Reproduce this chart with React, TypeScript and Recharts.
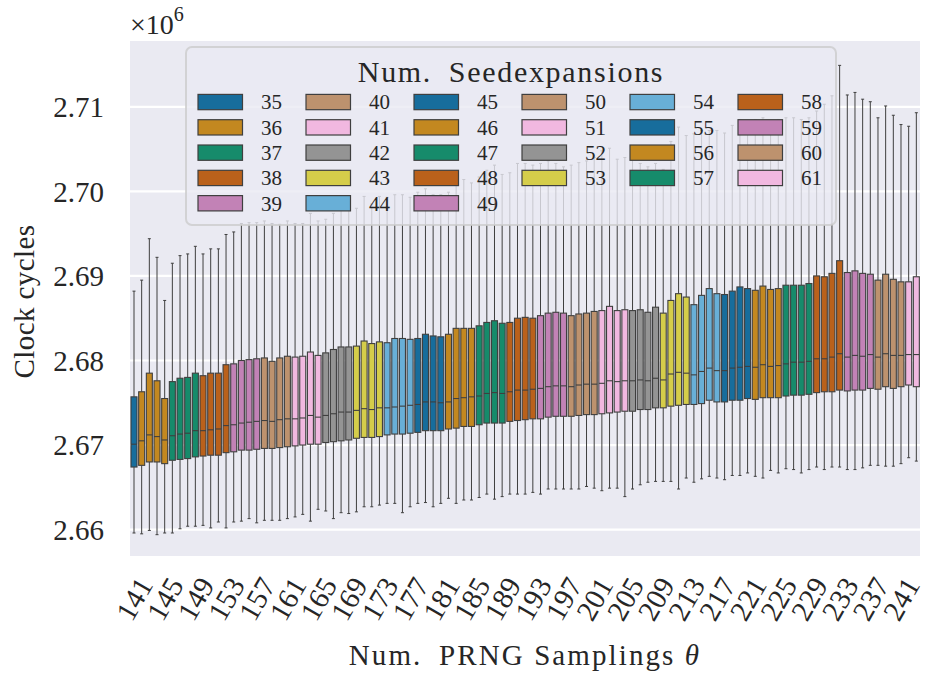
import { ComposedChart, Bar, XAxis, YAxis, CartesianGrid } from "recharts";

const FONT = '"Liberation Serif", "Times New Roman", serif';
const TEXT = "#262626";
const EDGE = "#3f3f3f";

// Num. PRNG samplings (x categories)
const thetas = [
  141, 142, 143, 144, 145, 146, 147, 148, 149, 150,
  151, 152, 153, 154, 155, 156, 157, 158, 159, 160,
  161, 162, 163, 164, 165, 166, 167, 168, 169, 170,
  171, 172, 173, 174, 175, 176, 177, 178, 179, 180,
  181, 182, 183, 184, 185, 186, 187, 188, 189, 190,
  191, 192, 193, 194, 195, 196, 197, 198, 199, 200,
  201, 202, 203, 204, 205, 206, 207, 208, 209, 210,
  211, 212, 213, 214, 215, 216, 217, 218, 219, 220,
  221, 222, 223, 224, 225, 226, 227, 228, 229, 230,
  231, 232, 233, 234, 235, 236, 237, 238, 239, 240,
  241, 242, 243,
];

// Num. seedexpansions used for each theta (hue)
const seeds = [
  35, 36, 36, 36, 36, 37, 37, 37, 37, 38,
  38, 38, 38, 39, 39, 39, 39, 40, 40, 40,
  40, 41, 41, 41, 41, 42, 42, 42, 42, 43,
  43, 43, 43, 44, 44, 44, 44, 45, 45, 45,
  45, 46, 46, 46, 46, 47, 47, 47, 47, 48,
  48, 48, 48, 49, 49, 49, 49, 50, 50, 50,
  50, 51, 51, 51, 51, 52, 52, 52, 52, 53,
  53, 53, 53, 54, 54, 54, 54, 55, 55, 55,
  55, 56, 56, 56, 56, 57, 57, 57, 57, 58,
  58, 58, 58, 59, 59, 59, 59, 60, 60, 60,
  60, 61, 61,
];

// clock cycles
const whiskerLow = [
  2659600, 2659500, 2659900, 2659400, 2659600, 2659600, 2660100, 2660400, 2660400, 2660500,
  2660200, 2660900, 2660200, 2660900, 2661000, 2661300, 2660800, 2661100, 2661100, 2661100,
  2661300, 2661500, 2661800, 2661000, 2662400, 2662200, 2661300, 2662000, 2661900, 2662100,
  2662700, 2662700, 2662900, 2663100, 2663100, 2662000, 2662700, 2663100, 2663200, 2662700,
  2663100, 2663700, 2663100, 2663500, 2663500, 2663800, 2664200, 2663600, 2663900, 2664200,
  2664200, 2664200, 2664400, 2664200, 2664800, 2664800, 2664800, 2664800, 2664800, 2665100,
  2664900, 2664600, 2664900, 2664900, 2663900, 2664800, 2665300, 2665600, 2665700, 2665700,
  2665700, 2664800, 2666100, 2665600, 2666000, 2666300, 2666100, 2665900, 2666400, 2666400,
  2666700, 2666300, 2666100, 2667000, 2666700, 2667200, 2667100, 2666700, 2667100, 2667400,
  2667100, 2667400, 2667400, 2667100, 2667100, 2667300, 2667600, 2667600, 2667500, 2667500,
  2667800, 2668500, 2668100,
];

const q1 = [
  2667400, 2667600, 2668000, 2668000, 2667800, 2668200, 2668300, 2668400, 2668600, 2668700,
  2668800, 2668800, 2669100, 2669200, 2669400, 2669400, 2669500, 2669600, 2669600, 2669700,
  2669800, 2669900, 2670000, 2670100, 2670100, 2670300, 2670400, 2670500, 2670600, 2670800,
  2670900, 2670900, 2671000, 2671200, 2671300, 2671300, 2671400, 2671500, 2671700, 2671700,
  2671700, 2671900, 2672000, 2672200, 2672200, 2672400, 2672600, 2672600, 2672600, 2672800,
  2672900, 2673000, 2673100, 2673100, 2673300, 2673400, 2673400, 2673400, 2673500, 2673600,
  2673600, 2673700, 2673800, 2673900, 2674000, 2674000, 2674200, 2674200, 2674400, 2674400,
  2674600, 2674700, 2674800, 2674800, 2674900, 2675300, 2675100, 2675100, 2675300, 2675300,
  2675500, 2675400, 2675600, 2675600, 2675600, 2675800, 2675900, 2675900, 2676000, 2676200,
  2676300, 2676300, 2676500, 2676400, 2676500, 2676500, 2676700, 2676600, 2676900, 2676700,
  2676900, 2677100, 2676900,
];

const median = [
  2670100, 2670500, 2671200, 2671000, 2670600, 2671100, 2671300, 2671400, 2671700, 2671700,
  2671800, 2671900, 2672300, 2672400, 2672600, 2672700, 2672800, 2672900, 2672800, 2673000,
  2673100, 2673100, 2673200, 2673500, 2673300, 2673500, 2673700, 2673900, 2673900, 2674100,
  2674300, 2674200, 2674400, 2674400, 2674500, 2674600, 2674700, 2674800, 2675100, 2675100,
  2675000, 2675100, 2675500, 2675600, 2675700, 2675800, 2676100, 2676200, 2676100, 2676300,
  2676500, 2676500, 2676600, 2676700, 2676900, 2677000, 2677000, 2676900, 2677100, 2677200,
  2677200, 2677300, 2677600, 2677500, 2677600, 2677600, 2677700, 2677600, 2677900, 2677700,
  2678400, 2678600, 2678500, 2678300, 2678700, 2679100, 2678800, 2678800, 2679100, 2679200,
  2679300, 2679200, 2679500, 2679300, 2679400, 2679600, 2679800, 2679800, 2679900, 2680200,
  2680200, 2680400, 2680800, 2680400, 2680600, 2680500, 2680700, 2680400, 2680800, 2680600,
  2680600, 2680700, 2680700,
];

const q3 = [
  2675700, 2676300, 2678500, 2677600, 2675500, 2677500, 2677900, 2678000, 2678500, 2678200,
  2678500, 2678500, 2679500, 2679600, 2680000, 2680100, 2680200, 2680300, 2679900, 2680300,
  2680500, 2680400, 2680500, 2681000, 2680600, 2680900, 2681300, 2681600, 2681600, 2681700,
  2682300, 2682000, 2682200, 2682100, 2682600, 2682600, 2682500, 2682600, 2683100, 2682900,
  2682800, 2683100, 2683800, 2683800, 2683800, 2684100, 2684500, 2684700, 2684400, 2684500,
  2685000, 2685100, 2685000, 2685300, 2685600, 2685700, 2685600, 2685300, 2685500, 2685600,
  2685800, 2685900, 2686400, 2685900, 2686000, 2685900, 2686000, 2685700, 2686300, 2685600,
  2687100, 2687900, 2687500, 2686600, 2687700, 2688500, 2687900, 2687800, 2688200, 2688700,
  2688500, 2688300, 2688800, 2688400, 2688500, 2688900, 2688900, 2688900, 2689100, 2690000,
  2689900, 2690300, 2691800, 2690400, 2690600, 2690300, 2690200, 2689500, 2690200, 2689600,
  2689300, 2689300, 2689900,
];

const whiskerHigh = [
  2688200, 2689500, 2694400, 2692200, 2687100, 2691500, 2692400, 2692600, 2693500, 2692600,
  2693200, 2693200, 2694900, 2695200, 2696200, 2696300, 2696300, 2696500, 2696200, 2696100,
  2696500, 2696200, 2696200, 2697400, 2696500, 2696700, 2697400, 2697800, 2698000, 2698000,
  2699400, 2698500, 2699400, 2699300, 2699600, 2699600, 2699300, 2699900, 2700300, 2699600,
  2699600, 2699900, 2700900, 2701400, 2701000, 2701700, 2702500, 2703100, 2702000, 2702200,
  2703300, 2703300, 2703100, 2703300, 2703600, 2703300, 2702900, 2703100, 2703400, 2703600,
  2704000, 2704800, 2705100, 2703800, 2704000, 2704200, 2703300, 2702900, 2703300, 2702600,
  2705900, 2707600, 2706600, 2706800, 2707200, 2707200, 2707200, 2706900, 2707800, 2708500,
  2708400, 2708500, 2708700, 2708400, 2708500, 2708700, 2708700, 2708500, 2708700, 2709500,
  2710300, 2711300, 2714900, 2711400, 2711700, 2710900, 2710600, 2708700, 2710100, 2709000,
  2707900, 2707700, 2709300,
];

const yTicks = [2660000, 2670000, 2680000, 2690000, 2700000, 2710000];

// seaborn colorblind palette, desaturated like a boxplot
const palette = [
  "#176d9c", "#c38820", "#168b6b", "#ba611b", "#c282b6",
  "#bd926e", "#f1b8e0", "#949494", "#d5cd4a", "#68afd7",
];
const colorFor = (seed: number) => palette[(seed - 35) % 10];

const data = thetas.map((t, i) => ({
  theta: String(t),
  seed: seeds[i],
  range: [whiskerLow[i], whiskerHigh[i]],
  q1: q1[i],
  median: median[i],
  q3: q3[i],
}));

const legendSeeds = Array.from(new Set(seeds));

function BoxShape(props: any) {
  const { x, y, width, height, payload } = props;
  const top = Math.min(y, y + height);
  const bottom = Math.max(y, y + height);
  const [lo, hi] = payload.range;
  const toY = (v: number) => bottom - ((v - lo) / (hi - lo)) * (bottom - top);
  const cx = x + width / 2;
  const cap = width * 0.25;
  const yq1 = toY(payload.q1);
  const yq3 = toY(payload.q3);
  const ymed = toY(payload.median);
  return (
    <g>
      <line x1={cx} x2={cx} y1={top} y2={yq3} stroke={EDGE} strokeWidth={1} />
      <line x1={cx} x2={cx} y1={yq1} y2={bottom} stroke={EDGE} strokeWidth={1} />
      <line x1={cx - cap} x2={cx + cap} y1={top} y2={top} stroke={EDGE} strokeWidth={1} />
      <line x1={cx - cap} x2={cx + cap} y1={bottom} y2={bottom} stroke={EDGE} strokeWidth={1} />
      <rect
        x={x}
        y={yq3}
        width={width}
        height={yq1 - yq3}
        fill={colorFor(payload.seed)}
        stroke={EDGE}
        strokeWidth={1.1}
      />
      <line x1={x} x2={x + width} y1={ymed} y2={ymed} stroke={EDGE} strokeWidth={1.1} />
    </g>
  );
}

function XTick({ x, y, payload }: any) {
  const ax = x + 20;
  const ay = y + 20;
  return (
    <text
      x={ax}
      y={ay}
      transform={`rotate(-60, ${ax}, ${ay})`}
      textAnchor="end"
      fontSize={29}
      fontFamily={FONT}
      fill={TEXT}
    >
      {payload.value}
    </text>
  );
}

function YTick({ y, payload }: any) {
  return (
    <text x={104} y={y} dy="0.35em" textAnchor="end" fontSize={29} fontFamily={FONT} fill={TEXT}>
      {(payload.value / 1e6).toFixed(2)}
    </text>
  );
}

function YLabel({ viewBox }: any) {
  const cy = viewBox.y + viewBox.height / 2;
  return (
    <g fontFamily={FONT} fill={TEXT}>
      <text
        transform={`translate(24, ${cy + 3}) rotate(-90)`}
        textAnchor="middle"
        dy="0.35em"
        fontSize={29}
        letterSpacing={0.4}
      >
        Clock cycles
      </text>
      <text x={130} y={34} fontSize={28}>
        ×10
        <tspan dy={-13} fontSize={20}>
          6
        </tspan>
      </text>
    </g>
  );
}

function XLabel({ viewBox }: any) {
  return (
    <text
      x={viewBox.x + viewBox.width / 2}
      y={665}
      textAnchor="middle"
      fontSize={29}
      fontFamily={FONT}
      fill={TEXT}
      letterSpacing={2.1}
    >
      Num.{"\u2002"}PRNG Samplings <tspan fontStyle="italic">θ</tspan>
    </text>
  );
}

function SeedLegend() {
  const rows = Math.ceil(legendSeeds.length / 6);
  const extra = legendSeeds.length % 6;
  const items: { seed: number; col: number; row: number }[] = [];
  let k = 0;
  for (let c = 0; c < 6; c++) {
    const n = extra === 0 || c < extra ? rows : rows - 1;
    for (let r = 0; r < n && k < legendSeeds.length; r++) {
      items.push({ seed: legendSeeds[k++], col: c, row: r });
    }
  }
  return (
    <svg
      width={652}
      height={180}
      style={{ position: "absolute", left: 185, top: 46 }}
      fontFamily={FONT}
    >
      <rect
        x={1}
        y={1}
        width={650}
        height={178}
        rx={6}
        fill="#eaeaf2"
        fillOpacity={0.8}
        stroke="#cccccc"
        strokeOpacity={0.8}
        strokeWidth={2}
      />
      <text x={326} y={36} textAnchor="middle" fontSize={30} fill={TEXT} letterSpacing={1.7}>
        Num.{"\u2002"}Seedexpansions
      </text>
      {items.map((it) => {
        const px = 13 + it.col * 108;
        const cy = 56 + it.row * 25.3;
        return (
          <g key={it.seed}>
            <rect
              x={px}
              y={cy - 7.6}
              width={44.5}
              height={15.3}
              fill={colorFor(it.seed)}
              stroke={EDGE}
              strokeWidth={1.2}
            />
            <text x={px + 63} y={cy} dy="0.35em" fontSize={21} fill={TEXT}>
              {it.seed}
            </text>
          </g>
        );
      })}
    </svg>
  );
}

export default function App() {
  return (
    <div style={{ position: "absolute", left: 0, top: 0, width: 925, height: 675, background: "#fff" }}>
      <ComposedChart
        width={925}
        height={675}
        data={data}
        margin={{ top: 40, right: 5, bottom: 0, left: 0 }}
      >
        <CartesianGrid vertical={false} fill="#eaeaf2" stroke="#ffffff" strokeWidth={2.2} />
        <XAxis
          dataKey="theta"
          interval={3}
          height={118}
          axisLine={false}
          tickLine={false}
          tick={<XTick />}
          label={XLabel}
        />
        <YAxis
          type="number"
          domain={[2656760, 2717900]}
          ticks={yTicks}
          allowDataOverflow
          width={130}
          axisLine={false}
          tickLine={false}
          tick={<YTick />}
          label={YLabel}
        />
        <Bar dataKey="range" barSize={6} shape={BoxShape} isAnimationActive={false} />
      </ComposedChart>
      <SeedLegend />
    </div>
  );
}
